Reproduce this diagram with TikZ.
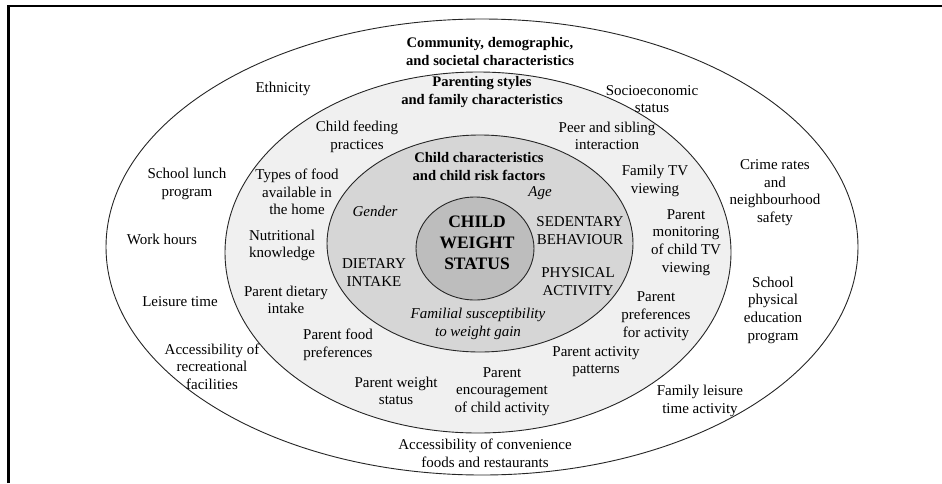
\documentclass[tikz,border=0pt]{standalone}
\usepackage{fontspec}
\setmainfont{Liberation Serif}
\begin{document}
\begin{tikzpicture}[x=1pt,y=-1pt,
  lbl/.style={align=center,anchor=center,inner sep=0pt,font=\fontsize{15}{17.7}\selectfont},
  head/.style={align=center,anchor=center,inner sep=0pt,font=\fontsize{14.6}{18}\selectfont\bfseries},
  itl/.style={align=center,anchor=center,inner sep=0pt,font=\fontsize{15}{17.7}\selectfont\itshape},
  caps/.style={align=center,anchor=center,inner sep=0pt,font=\fontsize{15}{18.5}\selectfont},
  core/.style={align=center,anchor=center,inner sep=0pt,font=\fontsize{17.5}{21}\selectfont\bfseries},
  ring/.style={draw=black!85,line width=0.9pt}]
\useasboundingbox (0,0) rectangle (942,483);
% frame
\draw[line width=2.6pt] (8.7,483) -- (8.7,6) -- (942,6);
% ellipses
\draw[ring,fill=white] (482,247) ellipse [x radius=376pt, y radius=228pt];
\draw[ring,fill=black!6] (478,252.5) ellipse [x radius=253pt, y radius=180.5pt];
\draw[ring,fill=black!16] (480,243.5) ellipse [x radius=153pt, y radius=108.5pt];
\draw[ring,fill=black!26] (475,248.5) ellipse [x radius=59pt, y radius=51.5pt];
% outer ring texts
\node[head] (community) at (490,52) {Community, demographic,\\and societal characteristics};
\node[lbl] (ethnicity) at (283,89) {Ethnicity};
\node[lbl] (ses) at (652,99) {Socioeconomic\\status};
\node[lbl] (lunch) at (187,184) {School lunch\\program};
\node[lbl] (crime) at (775,192.5) {Crime rates\\and\\neighbourhood\\safety};
\node[lbl] (work) at (162,239) {Work hours};
\node[lbl] (leisure) at (180,302) {Leisure time};
\node[lbl] (pe) at (773,310) {School\\physical\\education\\program};
\node[lbl] (recr) at (212,366.5) {Accessibility of\\recreational\\facilities};
\node[lbl] (famleis) at (700,401) {Family leisure\\time activity};
\node[lbl] (conv) at (485,453.5) {Accessibility of convenience\\foods and restaurants};
% middle ring texts
\node[head] (parenting) at (482,92) {Parenting styles\\and family characteristics};
\node[lbl] (feeding) at (357,137) {Child feeding\\practices};
\node[lbl] (peer) at (607,136) {Peer and sibling\\interaction};
\node[lbl] (types) at (297,192) {Types of food\\available in\\the home};
\node[lbl] (famtv) at (655,181) {Family TV\\viewing};
\node[lbl] (nutr) at (282,245.5) {Nutritional\\knowledge};
\node[lbl] (monitor) at (686,242.5) {Parent\\monitoring\\of child TV\\viewing};
\node[lbl] (pdiet) at (286,300) {Parent dietary\\intake};
\node[lbl] (pprefact) at (656,316) {Parent\\preferences\\for activity};
\node[lbl] (pfood) at (338,345) {Parent food\\preferences};
\node[lbl] (pact) at (596,361.5) {Parent activity\\patterns};
\node[lbl] (pweight) at (396,391) {Parent weight\\status};
\node[lbl] (penc) at (502,391.5) {Parent\\encouragement\\of child activity};
% inner ring texts
\node[head] (childchar) at (479,166) {Child characteristics\\and child risk factors};
\node[itl] (age) at (540,193) {Age};
\node[itl] (gender) at (375,211) {Gender};
\node[caps] (sed) at (580,230.5) {SEDENTARY\\BEHAVIOUR};
\node[caps] (diet) at (374,272.5) {DIETARY\\INTAKE};
\node[caps] (phys) at (578,281.5) {PHYSICAL\\ACTIVITY};
\node[itl] (familial) at (478,324) {Familial susceptibility\\to weight gain};
% core
\node[core] (cws) at (477,243) {CHILD\\WEIGHT\\STATUS};
\end{tikzpicture}
\end{document}
